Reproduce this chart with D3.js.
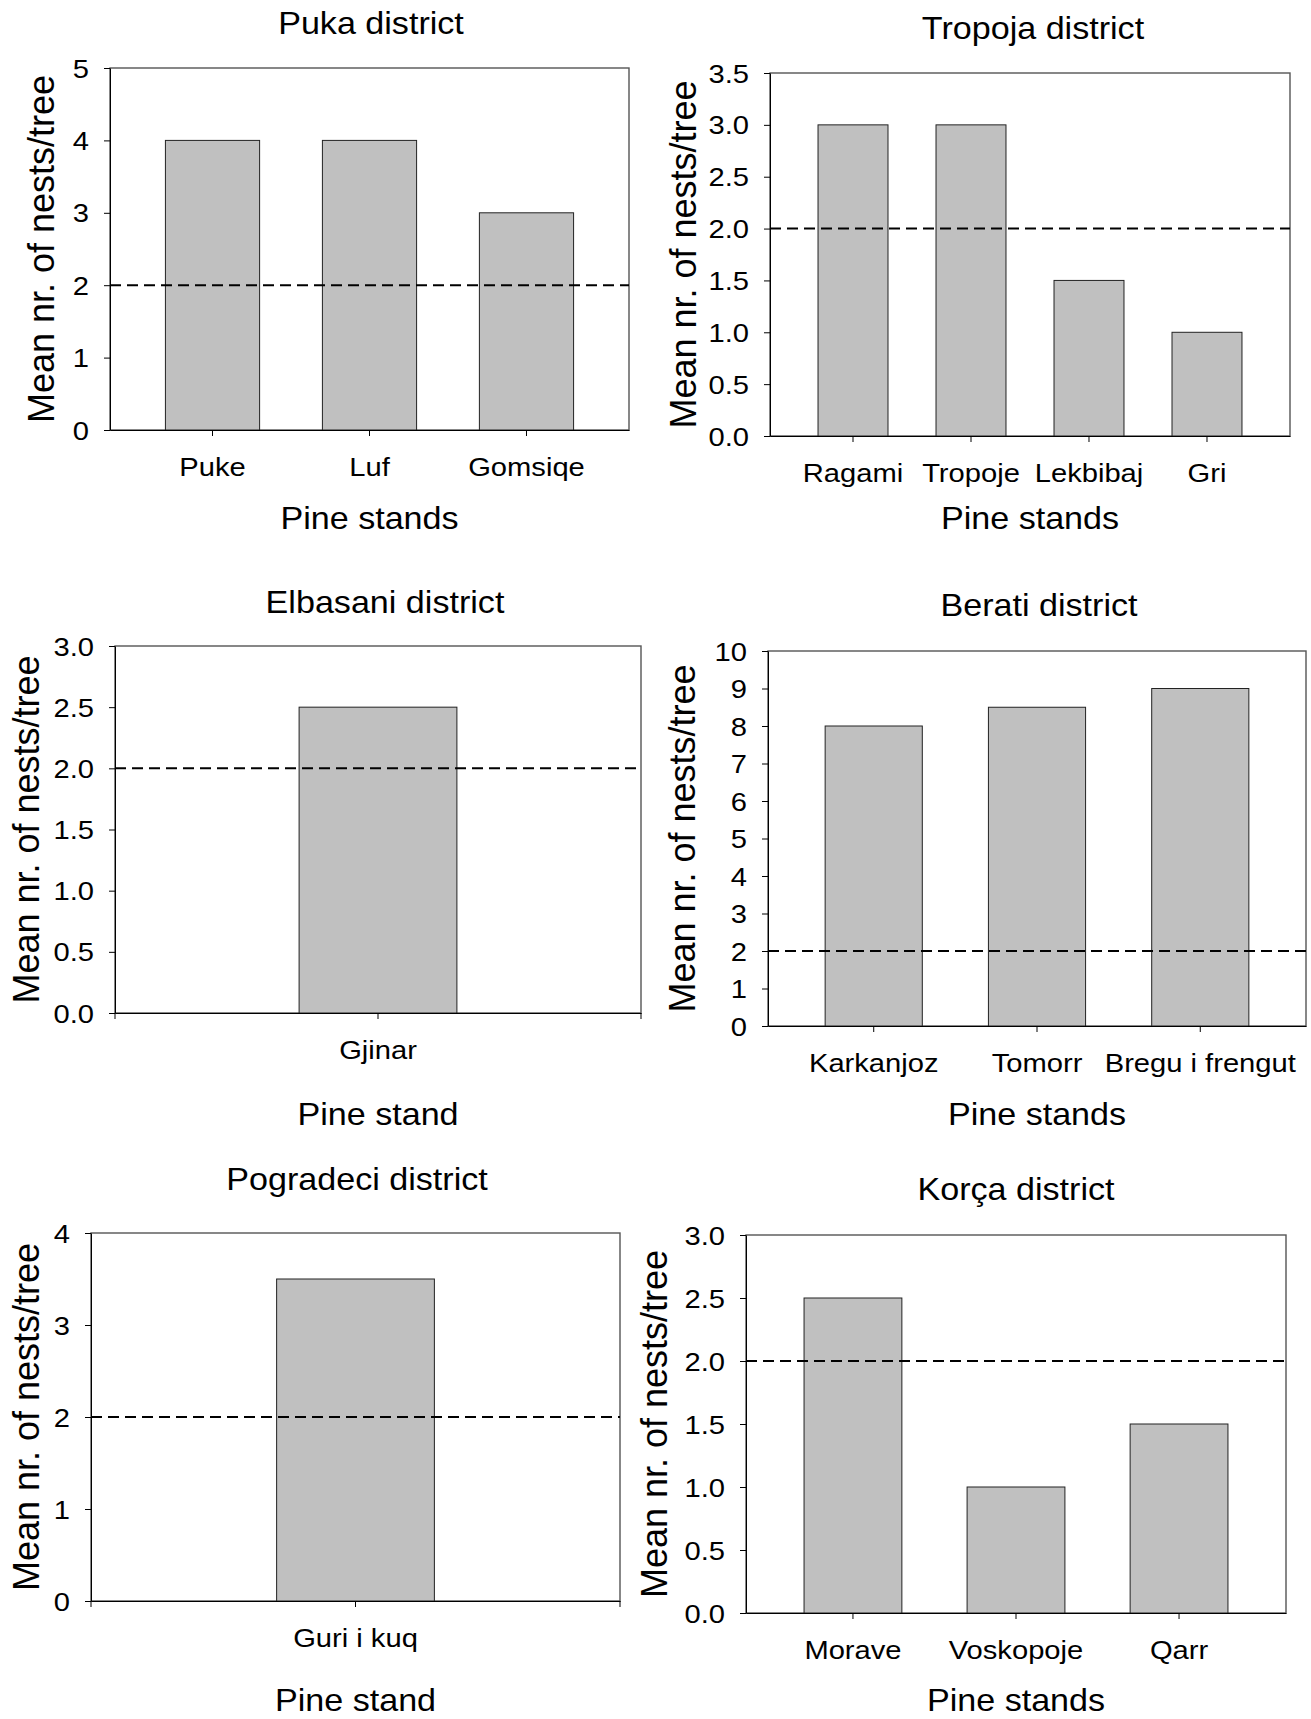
<!DOCTYPE html>
<html>
<head>
<meta charset="utf-8">
<script src="https://cdn.jsdelivr.net/npm/d3@7"></script>
<style>
  body { margin: 0; background: #fff; }
  svg { display: block; font-family: 'Liberation Sans', Arial, sans-serif; }
</style>
</head>
<body>
<svg width="1311" height="1719"></svg>
<script>
// data
const pukaStands = ['Puke', 'Luf', 'Gomsiqe'];
const pukaNests = [4, 4, 3];
const pukaTicks = [0, 1, 2, 3, 4, 5];

const tropojaStands = ['Ragami', 'Tropoje', 'Lekbibaj', 'Gri'];
const tropojaNests = [3, 3, 1.5, 1];
const tropojaTicks = [0, 0.5, 1, 1.5, 2, 2.5, 3, 3.5];

const elbasaniStands = ['Gjinar'];
const elbasaniNests = [2.5];
const elbasaniTicks = [0, 0.5, 1, 1.5, 2, 2.5, 3];

const beratiStands = ['Karkanjoz', 'Tomorr', 'Bregu i frengut'];
const beratiNests = [8, 8.5, 9];
const beratiTicks = [0, 1, 2, 3, 4, 5, 6, 7, 8, 9, 10];

const pogradeciStands = ['Guri i kuq'];
const pogradeciNests = [3.5];
const pogradeciTicks = [0, 1, 2, 3, 4];

const korcaStands = ['Morave', 'Voskopoje', 'Qarr'];
const korcaNests = [2.5, 1, 1.5];
const korcaTicks = [0, 0.5, 1, 1.5, 2, 2.5, 3];

const threshold = 2; // dashed reference line
const yLabel = 'Mean nr. of nests/tree';

// panels: data + where each one sits on the page
const panels = [
  { title: 'Puka district', xTitle: 'Pine stands', stands: pukaStands, nests: pukaNests, ticks: pukaTicks, fmt: 'd',
    left: 110, right: 629, top: 68, bottom: 430, titleX: 371, titleY: 34, xTitleY: 529, yLabelX: 54, pi: 0.4, po: 0.353 },
  { title: 'Tropoja district', xTitle: 'Pine stands', stands: tropojaStands, nests: tropojaNests, ticks: tropojaTicks, fmt: '.1f',
    left: 770, right: 1290, top: 73, bottom: 436, titleX: 1033, titleY: 39, xTitleY: 529, yLabelX: 696, pi: 0.407, po: 0.407 },
  { title: 'Elbasani district', xTitle: 'Pine stand', stands: elbasaniStands, nests: elbasaniNests, ticks: elbasaniTicks, fmt: '.1f',
    left: 115, right: 641, top: 646, bottom: 1013, titleX: 385, titleY: 613, xTitleY: 1125, yLabelX: 39, pi: 0.4, po: 0.7 },
  { title: 'Berati district', xTitle: 'Pine stands', stands: beratiStands, nests: beratiNests, ticks: beratiTicks, fmt: 'd',
    left: 768, right: 1306, top: 651, bottom: 1026, titleX: 1039, titleY: 616, xTitleY: 1125, yLabelX: 695, pi: 0.405, po: 0.35 },
  { title: 'Pogradeci district', xTitle: 'Pine stand', stands: pogradeciStands, nests: pogradeciNests, ticks: pogradeciTicks, fmt: 'd',
    left: 91, right: 620, top: 1233, bottom: 1601, titleX: 357, titleY: 1190, xTitleY: 1711, yLabelX: 39, pi: 0.4, po: 0.706 },
  { title: 'Korça district', xTitle: 'Pine stands', stands: korcaStands, nests: korcaNests, ticks: korcaTicks, fmt: '.1f',
    left: 746, right: 1286, top: 1235, bottom: 1613, titleX: 1016, titleY: 1200, xTitleY: 1711, yLabelX: 667, pi: 0.4, po: 0.356 }
];

const svg = d3.select('svg');
svg.append('rect').attr('width', 1311).attr('height', 1719).attr('fill', '#fff');

const stretch = 1.1; // the original figure is slightly wide

const addText = (parent, x, y, str, size, anchor = 'middle') =>
  parent.append('text')
    .attr('transform', `translate(${x},${y}) scale(${stretch},1)`)
    .attr('text-anchor', anchor)
    .attr('font-size', size)
    .attr('fill', '#000')
    .text(str);

const renderPanel = (p) => {
  const g = svg.append('g').attr('class', 'panel');

  const xScale = d3.scaleBand()
    .domain(p.stands)
    .range([p.left, p.right])
    .paddingInner(p.pi)
    .paddingOuter(p.po);

  const yScale = d3.scaleLinear()
    .domain([0, d3.max(p.ticks)])
    .range([p.bottom, p.top]);

  // frame
  g.append('rect')
    .attr('x', p.left).attr('y', p.top)
    .attr('width', p.right - p.left).attr('height', p.bottom - p.top)
    .attr('fill', 'none').attr('stroke', '#555').attr('stroke-width', 1.4);

  // bars
  g.selectAll('rect.bar')
    .data(p.stands)
    .enter()
    .append('rect')
      .attr('class', 'bar')
      .attr('x', d => xScale(d))
      .attr('y', (d, i) => yScale(p.nests[i]))
      .attr('width', xScale.bandwidth())
      .attr('height', (d, i) => yScale(0) - yScale(p.nests[i]))
      .attr('fill', '#c0c0c0')
      .attr('stroke', '#222')
      .attr('stroke-width', 1);

  // dashed reference line
  g.append('line')
    .attr('x1', p.left).attr('x2', p.right)
    .attr('y1', yScale(threshold)).attr('y2', yScale(threshold))
    .attr('stroke', '#000').attr('stroke-width', 2)
    .attr('stroke-dasharray', '11,6');

  // y axis
  const yAxisGroup = g.append('g')
    .attr('transform', `translate(${p.left},0)`)
    .call(d3.axisLeft(yScale).tickValues(p.ticks).tickFormat(d3.format(p.fmt)).tickSize(6).tickSizeOuter(0))
    .attr('font-size', null).attr('font-family', null);
  yAxisGroup.select('path.domain').attr('stroke', '#000');
  yAxisGroup.selectAll('.tick line').attr('stroke', '#000');
  yAxisGroup.selectAll('.tick text')
    .attr('x', null).attr('dy', '0.34em')
    .attr('transform', `translate(-21,0) scale(${stretch},1)`)
    .attr('font-size', 26.5).attr('fill', '#000');

  // x axis
  const xAxisGroup = g.append('g')
    .attr('transform', `translate(0,${p.bottom})`)
    .call(d3.axisBottom(xScale).tickSize(6).tickSizeOuter(0))
    .attr('font-size', null).attr('font-family', null);
  xAxisGroup.select('path.domain').attr('stroke', '#000');
  xAxisGroup.selectAll('.tick line').attr('stroke', '#000');
  xAxisGroup.selectAll('.tick text')
    .attr('y', null).attr('dy', null)
    .attr('transform', `translate(0,46) scale(${stretch},1)`)
    .attr('font-size', 26.5).attr('fill', '#000');

  // single-stand panels have ticks at both ends of the category axis
  if (p.stands.length === 1) {
    xAxisGroup.selectAll('line.edge')
      .data(xScale.range())
      .enter()
      .append('line')
        .attr('class', 'edge')
        .attr('x1', d => d).attr('x2', d => d)
        .attr('y1', 0).attr('y2', 6)
        .attr('stroke', '#000');
  }

  // titles
  addText(g, p.titleX, p.titleY, p.title, 31);
  addText(g, (p.left + p.right) / 2, p.xTitleY, p.xTitle, 31);

  g.append('text')
    .attr('transform', `translate(${p.yLabelX},${(p.top + p.bottom) / 2}) rotate(-90)`)
    .attr('text-anchor', 'middle')
    .attr('font-size', 36)
    .attr('fill', '#000')
    .text(yLabel);
};

panels.forEach(renderPanel);
</script>
</body>
</html>
